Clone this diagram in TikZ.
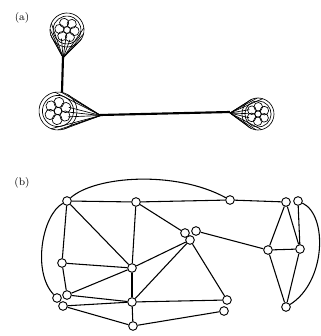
\documentclass[tikz,border=0pt]{standalone}
\usetikzlibrary{calc,backgrounds}
\newcommand{\myblob}[2]{%
  \draw[blobline] (0,0) circle ({#1});
  \draw[blobline] (0,0) circle ({#1*0.82});
  \foreach \a in {0,60,...,300} \draw[blobline] ({\a+30}:{#1*0.45}) circle ({#1*0.27});
  \draw[blobline] (0,0) circle ({#1*0.2});
  \foreach \a in {45,65,85,105} {
    \draw[blobline] (#2,0) -- ({\a}:{#1});
    \draw[blobline] (#2,0) -- ({-\a}:{#1});
  }
  \foreach \a in {-25,0,25} \draw[blobline] (#2,0) -- ({\a}:{#1*0.6});
}
\begin{document}
\begin{tikzpicture}[x=0.75pt,y=-0.75pt,
  vtx/.style={circle,draw,fill=white,inner sep=0pt,minimum size=6.5pt,line width=0.7pt},
  edge/.style={line width=0.8pt},
  blobline/.style={line width=0.5pt},
  stem/.style={line width=1.6pt},
  lbl/.style={font=\footnotesize,inner sep=0pt}]
\useasboundingbox (0,0) rectangle (321,336);

% ---------- (a) ----------
\node[lbl] (la) at (22,18) {(a)};
\begin{scope}[shift={(67,30)},rotate=-98]
  \myblob{17}{28}
\end{scope}
\begin{scope}[shift={(58,111)},rotate=-6]
  \myblob{19}{43}
\end{scope}
\begin{scope}[shift={(258,114)},rotate=178]
  \myblob{16}{28}
\end{scope}
\coordinate (ta) at (63,57);
\coordinate (tb) at (62,92);
\coordinate (tc) at (100,115);
\coordinate (td) at (230,112);
\draw[stem] (ta) -- (tb);
\draw[stem] (tc) -- (td);

% ---------- (b) ----------
\node[lbl] (lb) at (22,183) {(b)};

\node[vtx] (A) at (67,201) {};
\node[vtx] (B) at (136,202) {};
\node[vtx] (C) at (62,263) {};
\node[vtx] (D) at (132,268) {};
\node[vtx] (E1) at (57,298) {};
\node[vtx] (E2) at (67,295) {};
\node[vtx] (E3) at (63,306) {};
\node[vtx] (F) at (132,302) {};
\node[vtx] (G) at (133,326) {};
\node[vtx] (H) at (230,200) {};
\node[vtx] (I1) at (286,202) {};
\node[vtx] (I2) at (298,201) {};
\node[vtx] (J1) at (185,233) {};
\node[vtx] (J2) at (196,231) {};
\node[vtx] (J3) at (190,240) {};
\node[vtx] (K) at (268,250) {};
\node[vtx] (L) at (300,249) {};
\node[vtx] (M) at (286,307) {};
\node[vtx] (N1) at (227,300) {};
\node[vtx] (N2) at (224,311) {};

\begin{pgfonlayer}{background}
\draw[edge] (A) .. controls (95,176) and (175,170) .. (H);
\draw[edge] (A) .. controls (42,215) and (32,272) .. (E1);
\draw[edge] (I2) .. controls (328,215) and (326,282) .. (M);
\draw[edge] (A) -- (B);
\draw[edge] (B) -- (H);
\draw[edge] (H) -- (I1);
\draw[edge] (A) -- (C);
\draw[edge] (A) -- (D);
\draw[edge] (B) -- (D);
\draw[edge] (C) -- (D);
\draw[edge] (B) -- (J1);
\draw[edge] (D) -- (J3);
\draw[edge] (F) -- (J3);
\draw[edge] (J3) -- (N1);
\draw[edge] (J2) -- (K);
\draw[edge] (K) -- (L);
\draw[edge] (K) -- (I1);
\draw[edge] (I1) -- (L);
\draw[edge] (I2) -- (L);
\draw[edge] (K) -- (M);
\draw[edge] (L) -- (M);
\draw[edge] (C) -- (E2);
\draw[edge] (E2) -- (D);
\draw[edge] (E2) -- (F);
\draw[edge] (E3) -- (F);
\draw[edge] (E3) -- (G);
\draw[edge] (D) -- (F);
\draw[edge] (F) -- (G);
\draw[edge] (F) -- (N1);
\draw[edge] (G) -- (N2);
\end{pgfonlayer}
\end{tikzpicture}
\end{document}
